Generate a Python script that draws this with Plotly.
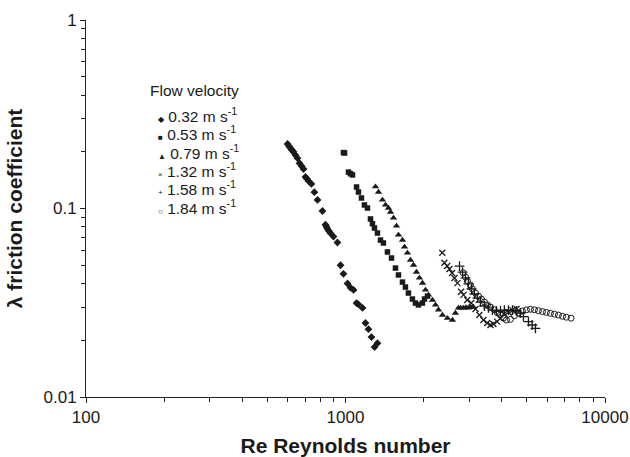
import plotly.graph_objects as go

# Re and friction coefficient, one pair of lists per flow velocity
re_032 = [598, 606, 614, 622, 630, 641, 653, 665, 677, 689, 701, 710, 720, 739, 759, 780, 815, 837, 845, 852,
          863, 875, 899, 931, 957, 982, 1018, 1045, 1074, 1103, 1122, 1163, 1194, 1226, 1259, 1294, 1328]
f_032 = [0.220, 0.214, 0.209, 0.204, 0.200, 0.192, 0.185, 0.174, 0.168, 0.162, 0.147, 0.144, 0.140, 0.135, 0.122,
         0.111, 0.097, 0.082, 0.080, 0.078, 0.076, 0.074, 0.071, 0.066, 0.050, 0.045, 0.040, 0.038, 0.037, 0.0315,
         0.031, 0.0297, 0.0247, 0.0229, 0.0208, 0.0184, 0.0193]

re_053 = [982, 992, 1027, 1045, 1064, 1103, 1122, 1152, 1183, 1215, 1248, 1270, 1293, 1328, 1364, 1400, 1451,
          1504, 1558, 1600, 1658, 1702, 1748, 1811, 1860, 1910, 1979, 2016, 2070]
f_053 = [0.198, 0.197, 0.156, 0.153, 0.1507, 0.130, 0.1223, 0.1137, 0.1044, 0.1006, 0.088, 0.083, 0.0788, 0.0741,
         0.068, 0.0656, 0.0588, 0.0546, 0.0483, 0.0444, 0.0407, 0.0383, 0.0356, 0.0331, 0.0315, 0.0308, 0.0315,
         0.0331, 0.0343]

re_079 = [1305, 1340, 1388, 1426, 1464, 1491, 1531, 1572, 1600, 1658, 1688, 1733, 1780, 1828, 1877, 1928, 1980,
          2033, 2088, 2163, 2222, 2282, 2364, 2471, 2583, 2653, 2725, 2780, 2848, 2910, 2977, 3040, 3112]
f_079 = [0.1305, 0.1223, 0.111, 0.1044, 0.1006, 0.0958, 0.0891, 0.0808, 0.0724, 0.068, 0.0625, 0.0581, 0.0533,
         0.0501, 0.046, 0.0428, 0.0402, 0.037, 0.0348, 0.0327, 0.0308, 0.029, 0.0272, 0.0262, 0.0256, 0.0279,
         0.0297, 0.0297, 0.0297, 0.0298, 0.0297, 0.0299, 0.0300]

re_132 = [2360, 2405, 2465, 2515, 2575, 2630, 2700, 2790, 2850, 2945, 3050, 3170, 3280, 3400, 3515, 3620, 3715,
          3840, 3955, 4095, 4245, 4400, 4560]
f_132 = [0.0583, 0.0516, 0.0495, 0.0478, 0.0455, 0.0428, 0.0402, 0.0362, 0.0348, 0.0327, 0.0315, 0.0293, 0.0272,
         0.0256, 0.0247, 0.0241, 0.0244, 0.0251, 0.0262, 0.0276, 0.0282, 0.0289, 0.0293]

re_158 = [2750, 2825, 2900, 2975, 3060, 3140, 3225, 3310, 3430, 3555, 3685, 3815, 3955, 4095, 4245, 4400, 4560,
          4720, 4850, 5070, 5240, 5395]
f_158 = [0.0495, 0.046, 0.0428, 0.0398, 0.0374, 0.0352, 0.0335, 0.0319, 0.0304, 0.0297, 0.0289, 0.0286, 0.0286,
         0.0289, 0.0289, 0.0289, 0.0286, 0.0279, 0.0267, 0.0251, 0.0241, 0.0231]

re_184 = [2840, 2900, 2950, 3030, 3085, 3170, 3255, 3340, 3430, 3525, 3620, 3750, 3850, 3955, 4060, 4170, 4320,
          4480, 4640, 4805, 4980, 5160, 5345, 5540, 5740, 5945, 6160, 6385, 6615, 6855, 7100, 7400]
f_184 = [0.0456, 0.0433, 0.0412, 0.0393, 0.0374, 0.0356, 0.0343, 0.0331, 0.0319, 0.0308, 0.0300, 0.0290, 0.0280,
         0.0272, 0.0262, 0.0256, 0.0258, 0.0270, 0.0280, 0.0286, 0.0290, 0.0292, 0.0290, 0.0287, 0.0284, 0.0281,
         0.0278, 0.0275, 0.0272, 0.0268, 0.0265, 0.0262]

labels = ["0.32", "0.53", "0.79", "1.32", "1.58", "1.84"]
glyphs = ["◆", "■", "▲", "×", "+", "○"]

ink = "#1a1a1a"
font = "Liberation Sans, Arial, sans-serif"

series = [
    (re_032, f_032, "diamond", 6, 0),
    (re_053, f_053, "square", 5.5, 0),
    (re_079, f_079, "triangle-up", 6.5, 0),
    (re_132, f_132, "x-thin-open", 6, 1.3),
    (re_158, f_158, "cross-thin-open", 7, 1.3),
    (re_184, f_184, "circle-open", 6, 1),
]

fig = go.Figure()
for (xs, ys, sym, size, lw), lab in zip(series, labels):
    fig.add_trace(go.Scatter(
        x=xs, y=ys, mode="markers", name=lab + " m s-1",
        marker=dict(symbol=sym, size=size, color=ink, line=dict(color=ink, width=lw)),
        showlegend=False,
    ))

minor_x = [m * 10 ** e for e in (2, 3) for m in range(2, 10)]
minor_y = [m * 10 ** e for e in (-2, -1) for m in range(2, 10)]

axis_common = dict(
    type="log", showgrid=False, zeroline=False, showline=True, linecolor="#222", linewidth=1,
    ticks="outside", ticklen=5, tickwidth=1, tickcolor="#222", automargin=False,
    tickfont=dict(family=font, size=17, color=ink), ticklabeloverflow="allow",
)

fig.update_xaxes(
    range=[2, 4], tickvals=[100, 1000, 10000], ticktext=["100", "1000", "10000"],
    minor=dict(tickvals=minor_x, ticks="outside", ticklen=4, tickcolor="#222", showgrid=False),
    title=dict(text="<b>Re Reynolds number</b>", font=dict(family=font, size=21, color=ink)),
    **axis_common,
)
fig.update_yaxes(
    range=[-2, 0], tickvals=[0.01, 0.1, 1], ticktext=["0.01", "0.1", "1"],
    minor=dict(tickvals=minor_y, ticks="outside", ticklen=4, tickcolor="#222", showgrid=False),
    title=dict(text="<b>λ friction coefficient</b>", font=dict(family=font, size=21, color=ink)),
    **axis_common,
)

# legend drawn as text so the spacing matches the original
fig.add_annotation(
    xref="paper", yref="paper", x=0.1195, y=0.8117, xanchor="left", yanchor="middle",
    text="Flow velocity", showarrow=False, font=dict(family=font, size=15.5, color=ink),
)
for i, (lab, g) in enumerate(zip(labels, glyphs)):
    fig.add_annotation(
        xref="paper", yref="paper", x=0.1358, y=0.748 - 0.04854 * i, xanchor="left", yanchor="middle",
        text="<span style='font-size:8px'>" + g + "</span> " + lab + " m s<sup>-1</sup>",
        showarrow=False, font=dict(family=font, size=15.5, color=ink),
    )

fig.update_layout(
    width=630, height=457,
    margin=dict(l=86, r=25, t=20, b=60),
    plot_bgcolor="white", paper_bgcolor="white",
    font=dict(family=font, color=ink),
)

fig.write_html("out.html", config={"displayModeBar": False},
               post_script="document.body.style.margin='0';")
